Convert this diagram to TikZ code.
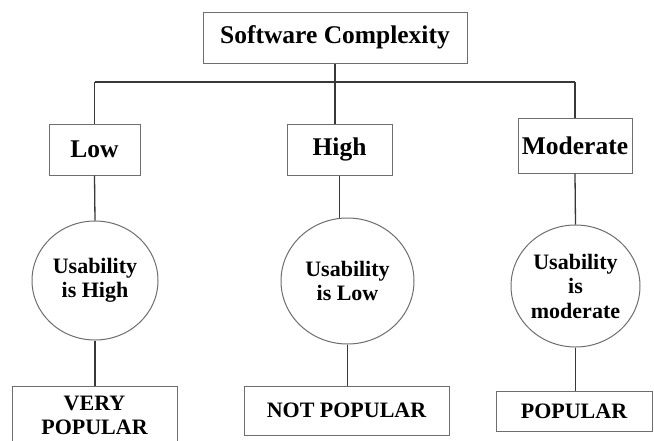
\documentclass[tikz,border=0pt]{standalone}
\usepackage{fontspec}
\setmainfont{Liberation Serif}[BoldFont={Liberation Serif Bold}]
\usetikzlibrary{calc,shapes.geometric}

\definecolor{boxline}{HTML}{6E6E6E}
\definecolor{wire}{HTML}{383838}

\tikzset{
  bigfont/.style={font=\bfseries\fontsize{25.5}{30}\selectfont},
  smallfont/.style={font=\bfseries\fontsize{22}{24.5}\selectfont},
  levelbox/.style={draw=boxline, line width=1pt, rectangle, inner sep=0pt, align=center},
  usebubble/.style={draw=boxline, line width=1pt, ellipse, inner sep=0pt, align=center, smallfont},
  wiring/.style={draw=wire, line width=1.3pt},
}

\begin{document}
\begin{tikzpicture}[x=1pt, y=-1pt]
  \useasboundingbox (0,0) rectangle (654,440);
  \clip (0,0) rectangle (654,440);
  \fill[white] (0,0) rectangle (654,440);

  % root
  \node[levelbox, bigfont, minimum width=264pt, minimum height=51pt] (top) at (335,37.5) {Software Complexity};

  % complexity levels
  \node[levelbox, bigfont, minimum width=91pt, minimum height=51pt] (low) at (94.5,149.5) {Low};
  \node[levelbox, bigfont, minimum width=105pt, minimum height=51pt] (high) at (339.5,149.5) {High};
  \node[levelbox, bigfont, minimum width=114pt, minimum height=55pt] (mod) at (575,145.5) {Moderate};

  % usability bubbles
  \node[usebubble, minimum width=126pt, minimum height=119pt] (lowc) at (95,280.5) {Usability\\is High};
  \node[usebubble, minimum width=133pt, minimum height=126pt] (highc) at (347.5,281) {Usability\\is Low};
  \node[usebubble, minimum width=129pt, minimum height=122pt] (modc) at (575.5,286) {Usability\\is\\moderate};

  % outcomes
  \node[levelbox, smallfont, minimum width=165pt, minimum height=59pt] (verypop) at (94.5,415.5) {VERY\\POPULAR};
  \node[levelbox, smallfont, minimum width=205pt, minimum height=49pt] (notpop) at (346.5,410.5) {NOT POPULAR};
  \node[levelbox, smallfont, minimum width=156pt, minimum height=40pt] (pop) at (574,411) {POPULAR};

  % bus joining the three levels
  \coordinate (busL) at (94.5,82);
  \coordinate (busR) at (575,82);
  \draw[wiring] (busL) -- (busR);
  \draw[wiring] (top.south) -- (top.south |- high.north);
  \draw[wiring] (low.north) -- (busL);
  \draw[wiring] (mod.north) -- (busR);

  % levels to bubbles
  \draw[wiring] (low.south) -- (lowc.north);
  \draw[wiring] (high.south) -- (high.south |- highc.north);
  \draw[wiring] (mod.south) -- (modc.north);

  % bubbles to outcomes
  \draw[wiring] (lowc.south) -- (lowc.south |- verypop.north);
  \draw[wiring] (highc.south) -- (highc.south |- notpop.north);
  \draw[wiring] (modc.south) -- (modc.south |- pop.north);
\end{tikzpicture}
\end{document}
